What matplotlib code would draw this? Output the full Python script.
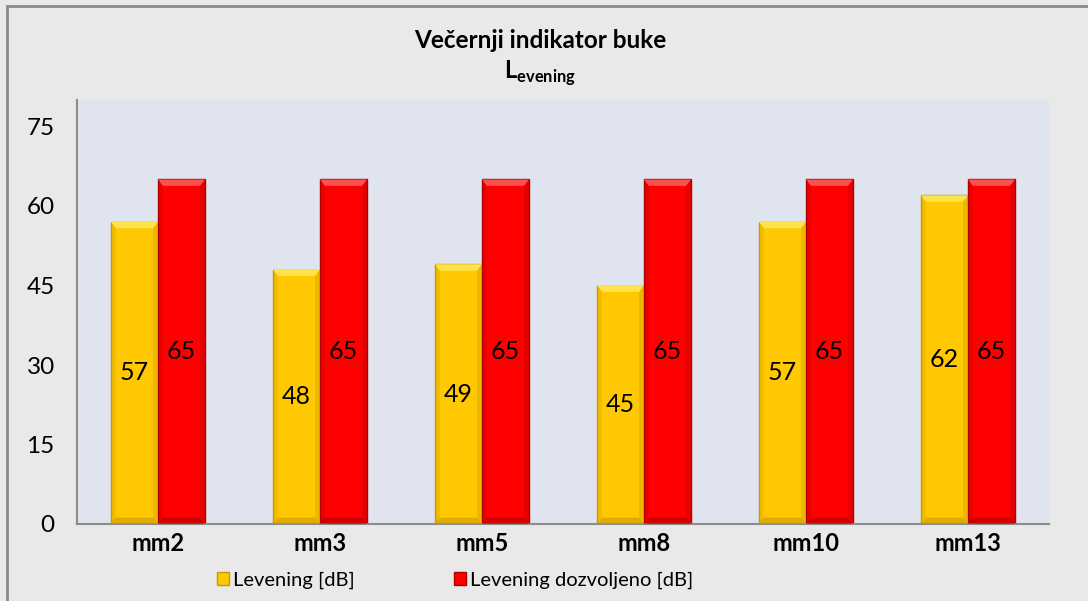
import numpy as np
import matplotlib.pyplot as plt
from matplotlib.patches import Polygon, Rectangle

## __DATA__________________________
categories = ['mm2', 'mm3', 'mm5', 'mm8', 'mm10', 'mm13']
levening = [57, 48, 49, 45, 57, 62]
dozvoljeno = [65, 65, 65, 65, 65, 65]
series_names = ['Levening [dB]', 'Levening dozvoljeno [dB]']
yticks = [0, 15, 30, 45, 60, 75]

## __STYLE__________________________
plt.rcParams['font.family'] = ['Lato', 'DejaVu Sans']
plt.rcParams['mathtext.fontset'] = 'custom'
plt.rcParams['mathtext.bf'] = 'Lato:bold'
plt.rcParams['mathtext.rm'] = 'Lato'

bgcol = '#e9e9e9'
plotcol = '#dfe4ee'
yel, yel_hi, yel_lo = '#ffc800', '#ffe34d', '#c99a00'
red, red_hi, red_lo = '#ff0000', '#ff5050', '#b00000'

fig = plt.figure(figsize=(10.88, 6.01), dpi=100, facecolor=bgcol)
# outer chart frame
fig.patches.append(Rectangle((7 / 1088, -0.1), 1.2, 1.1 - 6 / 601, transform=fig.transFigure,
                             fill=False, edgecolor='#8a8a8a', lw=2.0))
ax = fig.add_axes([77 / 1088, 1 - 524 / 601, (1049 - 77) / 1088, (524 - 100) / 601])
ax.set_facecolor(plotcol)

x = np.arange(len(categories))
w = 0.29


def bevel_bar(xc, h, col, hi, lo):
	'''bar with a simple bevel look (light top, darker sides)'''
	ax.bar(xc, h, w, color=col, edgecolor=lo, lw=1.0, zorder=2)
	bx = 0.03    # bevel width (x units)
	by = 1.2      # bevel height (y units)
	l, r = xc - w / 2, xc + w / 2
	ax.add_patch(Polygon([(l, h), (r, h), (r - bx, h - by), (l + bx, h - by)],
	                     closed=True, facecolor=hi, edgecolor='none', zorder=3))
	ax.add_patch(Polygon([(l, 0), (r, 0), (r - bx, by), (l + bx, by)],
	                     closed=True, facecolor=lo, edgecolor='none', alpha=0.6, zorder=3))
	ax.add_patch(Polygon([(r, 0), (r, h), (r - bx, h - by), (r - bx, by)],
	                     closed=True, facecolor=lo, edgecolor='none', alpha=0.35, zorder=3))
	ax.add_patch(Polygon([(l, 0), (l, h), (l + bx, h - by), (l + bx, by)],
	                     closed=True, facecolor=lo, edgecolor='none', alpha=0.25, zorder=3))
	ax.text(xc, h / 2, str(h), ha='center', va='center', fontsize=18, color='black', zorder=4)


for i in range(len(categories)):
	bevel_bar(x[i] - w / 2, levening[i], yel, yel_hi, yel_lo)
	bevel_bar(x[i] + w / 2, dozvoljeno[i], red, red_hi, red_lo)

## __AXES__________________________
ax.set_xlim(-0.5, len(categories) - 0.5)
ax.set_ylim(0, 80)
ax.set_yticks(yticks)
ax.set_yticklabels([str(t) for t in yticks], fontsize=17.5)
ax.set_xticks(x)
ax.set_xticklabels(categories, fontsize=17, fontweight='bold')
ax.tick_params(axis='both', length=0)
ax.tick_params(axis='y', pad=16)
ax.tick_params(axis='x', pad=6)
for s in ['top', 'right']:
	ax.spines[s].set_visible(False)
for s in ['left', 'bottom']:
	ax.spines[s].set_color('#8c8c8c')
	ax.spines[s].set_linewidth(1.5)

## __TITLE__________________________
fig.text(540 / 1088, 1 - 40 / 601, 'Večernji indikator buke', ha='center', va='center',
         fontsize=17.5, fontweight='bold')
fig.text(540 / 1088, 1 - 73 / 601, r'$\mathbf{L}_{\mathbf{evening}}$', ha='center', va='center',
         fontsize=17)

## __LEGEND__________________________
handles = [Rectangle((0, 0), 1, 1, facecolor=yel, edgecolor=yel_lo),
           Rectangle((0, 0), 1, 1, facecolor=red, edgecolor=red_lo)]
fig.legend(handles, series_names, loc='center', bbox_to_anchor=(455 / 1088, 1 - 580 / 601),
           ncol=2, frameon=False, fontsize=14.5, handlelength=0.6, handleheight=0.6,
           handletextpad=0.2, columnspacing=4.9, borderpad=0)

fig.savefig('out.png', dpi=100, facecolor=bgcol)
